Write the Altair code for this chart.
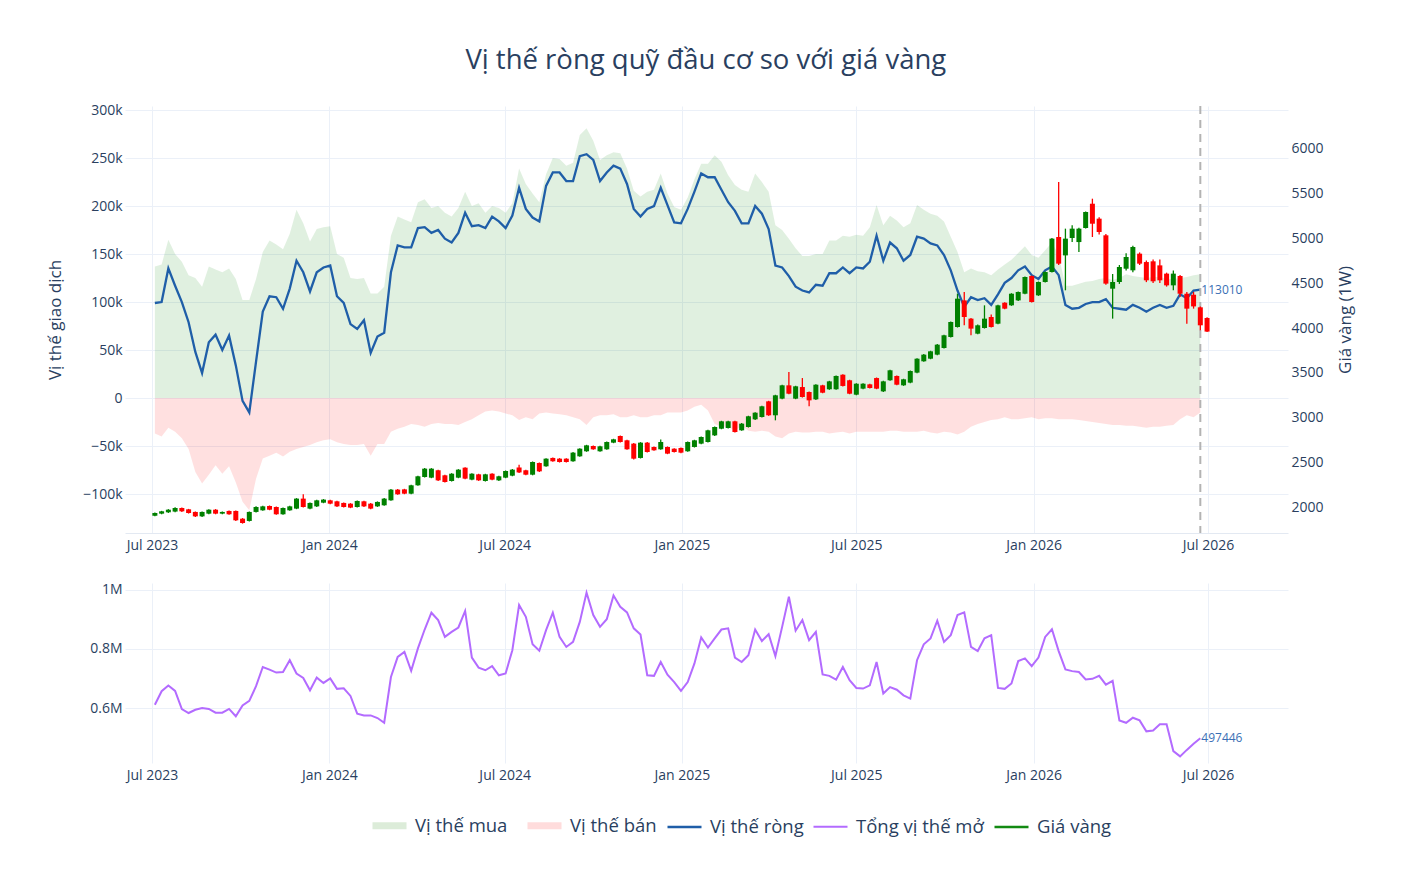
import altair as alt
import pandas as pd

# ---------------- data ----------------
START = "2023-07-04"   # first weekly report

# net position of managed money, thousands of contracts
NET_K = [99, 100, 135, 117, 100, 79, 48, 26, 58, 66, 50, 65, 34, -3, -15, 38, 90, 106, 105, 93,
         114, 143, 131, 111, 131, 136, 138, 106, 99, 77, 72, 81, 47, 64, 68, 131, 159, 157, 157, 177,
         178, 172, 175, 166, 162, 172, 193, 179, 180, 177, 189, 184, 177, 190, 219,
         197, 188, 184, 221, 235, 235, 226, 226, 252, 254, 248, 226, 235, 242, 239, 223, 197, 189, 197, 200,
         219, 201, 183, 182, 197, 215, 234, 230, 230, 217, 204, 195, 182, 182, 200, 192, 176, 138, 136, 127,
         116, 112, 110, 118, 117, 130, 130, 136, 130, 136, 135, 142, 169,
         143, 162, 156, 143, 149, 168, 166, 161, 159, 149, 133, 112, 95, 105, 102, 104, 97, 108, 120, 125,
         133, 137, 128, 124, 133, 137, 128, 97, 93, 94, 98, 100, 100, 103, 94, 93, 92, 97, 94, 90,
         94, 97, 94, 96, 108, 104, 112, 113.010]

LONG_K = [137, 139, 165, 150, 142, 128, 125, 116, 137, 134, 131, 135, 124, 102, 102, 124, 152, 164, 160, 155,
          171, 196, 182, 163, 176, 178, 179, 150, 146, 125, 124, 125, 109, 109, 116, 169, 189, 186, 183, 204,
          207, 198, 200, 193, 189, 198, 215, 200, 203, 193, 200, 198, 193, 203, 239,
          223, 213, 204, 233, 250, 249, 242, 245, 274, 281, 268, 248, 253, 256, 255, 239, 216, 210, 215, 217,
          234, 213, 199, 196, 209, 228, 244, 244, 253, 246, 232, 222, 217, 215, 234, 225, 215, 180, 175, 166,
          156, 148, 148, 150, 150, 164, 164, 169, 168, 170, 169, 178, 201,
          180, 190, 185, 178, 182, 201, 196, 192, 190, 184, 168, 152, 131, 135, 132, 131, 128, 134, 139, 144,
          151, 158, 149, 146, 154, 162, 149, 117, 117, 119, 121, 122, 124, 125, 123, 125, 129, 127, 126, 125,
          126, 126, 124, 124, 125, 126, 128, 129]

SHORT_K = [37, 40, 31, 35, 42, 53, 77, 89, 80, 70, 79, 71, 88, 108, 117, 84, 63, 60, 57, 61,
           56, 53, 51, 49, 46, 44, 43, 46, 48, 49, 49, 48, 60, 48, 48, 35, 32, 30, 27, 28,
           30, 27, 26, 27, 27, 28, 25, 22, 18, 14, 13, 14, 16, 18, 23,
           20, 22, 16, 15, 16, 17, 18, 20, 22, 28, 20, 18, 18, 17, 20, 20, 18, 20, 20, 18,
           18, 15, 15, 15, 13, 9, 7, 13, 27, 30, 30, 34, 29, 34, 35, 34, 35, 40, 42, 37,
           35, 36, 36, 35, 35, 37, 36, 35, 37, 35, 35, 35, 35,
           35, 34, 34, 35, 35, 35, 34, 36, 37, 35, 36, 38, 35, 30, 27, 25, 23, 22, 20, 22,
           22, 21, 20, 22, 21, 21, 22, 22, 22, 23, 24, 25, 26, 27, 28, 28, 29, 29, 30, 31,
           30, 30, 29, 28, 22, 18, 20, 15]

# total open interest, millions of contracts
OI_M = [0.611, 0.657, 0.676, 0.658, 0.596, 0.583, 0.594, 0.600, 0.597, 0.584,
        0.584, 0.597, 0.572, 0.609, 0.624, 0.674, 0.739, 0.730, 0.720, 0.722,
        0.762, 0.717, 0.702, 0.660, 0.703, 0.685, 0.700, 0.665, 0.667, 0.641,
        0.581, 0.575, 0.575, 0.566, 0.550, 0.705, 0.773, 0.790, 0.726, 0.802,
        0.866, 0.923, 0.898, 0.841, 0.858, 0.873, 0.929, 0.771, 0.737, 0.728,
        0.742, 0.711, 0.717, 0.796, 0.949, 0.909, 0.816, 0.794, 0.864, 0.923,
        0.841, 0.807, 0.824, 0.892, 0.991, 0.915, 0.875, 0.901, 0.981, 0.943,
        0.924, 0.870, 0.849, 0.711, 0.709, 0.756, 0.713, 0.688, 0.658, 0.688,
        0.751, 0.839,
        0.805, 0.836, 0.866, 0.870, 0.771, 0.756, 0.779, 0.866, 0.827, 0.850,
        0.776, 0.875, 0.977, 0.862, 0.898, 0.830, 0.858, 0.714, 0.709, 0.696,
        0.739, 0.694, 0.668, 0.666, 0.677, 0.756, 0.649, 0.671, 0.662, 0.643,
        0.632, 0.762, 0.816, 0.836, 0.896, 0.824, 0.847, 0.915, 0.924, 0.807,
        0.793, 0.836, 0.847, 0.668, 0.665, 0.683, 0.759, 0.768, 0.742, 0.771,
        0.841, 0.867, 0.793, 0.731, 0.725, 0.722, 0.697, 0.699, 0.709, 0.679,
        0.692, 0.558, 0.550, 0.567, 0.558, 0.521, 0.524, 0.545, 0.545, 0.454,
        0.436, 0.458, 0.479, 0.497446]

# weekly gold candles
OPEN = [1915, 1937, 1952, 1960, 2000, 1985, 1956, 1907, 1937, 1981, 1937, 1967, 1967, 1881, 1856, 1956, 1974, 2022, 2011, 1930,
        1974, 1993, 2104, 1993, 2018, 2059, 2085, 2074, 2056, 2048, 2011, 2074, 2048, 2018, 2030, 2085, 2204, 2207, 2159, 2252,
        2344, 2337, 2419, 2363, 2300, 2337, 2448, 2315, 2374, 2300, 2381, 2307, 2337, 2359, 2450, 2419, 2370, 2500, 2463, 2556,
        2548, 2548, 2519, 2574, 2630, 2689, 2630, 2652, 2726, 2800, 2752, 2715, 2556, 2726, 2678, 2652, 2678, 2659, 2667, 2630,
        2678, 2715, 2733, 2807, 2881, 2889, 2963, 2863, 2900, 2985, 3011, 3185, 3030, 3215, 3363, 3215, 3344, 3289, 3207, 3363,
        3319, 3319, 3481, 3419, 3259, 3326, 3374, 3444, 3296, 3419, 3467, 3363, 3393, 3504, 3630, 3659, 3704, 3778, 3900, 4011,
        4307, 4104, 3937, 4000, 4122, 4048, 4281, 4252, 4307, 4381, 4578, 4363, 4511, 4622, 5011, 4807, 5000, 4955, 5111, 5381,
        5215, 5030, 4437, 4511, 4659, 4641, 4826, 4733, 4741, 4696, 4604, 4474, 4578, 4381, 4370, 4230, 4111]
CLOSE = [1944, 1963, 1981, 2000, 1963, 1944, 1907, 1956, 1981, 1937, 1956, 1930, 1863, 1833, 1956, 2011, 2018, 1981, 1930, 2000,
         2018, 2104, 2011, 2056, 2085, 2093, 2048, 2018, 2011, 2004, 2078, 2018, 1993, 2067, 2104, 2204, 2152, 2159, 2252, 2352,
         2437, 2437, 2307, 2289, 2381, 2426, 2326, 2381, 2307, 2374, 2315, 2352, 2411, 2426, 2395, 2370, 2511, 2407, 2548, 2519,
         2511, 2511, 2615, 2659, 2696, 2652, 2685, 2733, 2763, 2733, 2652, 2548, 2726, 2622, 2641, 2733, 2604, 2622, 2615, 2733,
         2752, 2789, 2863, 2900, 2963, 2963, 2844, 2937, 3019, 3059, 3130, 3030, 3252, 3363, 3270, 3352, 3233, 3196, 3370, 3281,
         3407, 3467, 3356, 3270, 3381, 3381, 3333, 3326, 3407, 3530, 3370, 3430, 3522, 3659, 3704, 3741, 3815, 3919, 4067, 4326,
         4122, 3993, 4030, 4104, 4011, 4252, 4215, 4381, 4400, 4567, 4289, 4511, 4622, 4993, 4715, 4993, 5104, 5104, 5289, 5159,
         5067, 4493, 4511, 4678, 4789, 4900, 4715, 4530, 4519, 4530, 4474, 4604, 4381, 4215, 4240, 4030, 3960]
HIGH = [1950, 1968, 1987, 2008, 2006, 1990, 1962, 1961, 1986, 1988, 1962, 1972, 1972, 1888, 1962, 2018, 2024, 2028, 2016, 2006,
        2024, 2110, 2152, 2062, 2091, 2099, 2091, 2080, 2062, 2054, 2084, 2080, 2054, 2073, 2110, 2210, 2210, 2213, 2258, 2358,
        2443, 2443, 2425, 2369, 2387, 2432, 2454, 2387, 2380, 2380, 2387, 2358, 2417, 2432, 2481, 2425, 2517, 2506, 2554, 2562,
        2554, 2554, 2621, 2665, 2702, 2695, 2691, 2739, 2769, 2806, 2758, 2721, 2732, 2732, 2684, 2760, 2684, 2665, 2673, 2739,
        2758, 2795, 2869, 2906, 2969, 2969, 2969, 2943, 3025, 3065, 3136, 3191, 3258, 3369, 3511, 3358, 3444, 3295, 3376, 3369,
        3413, 3473, 3487, 3425, 3387, 3387, 3380, 3450, 3413, 3536, 3473, 3436, 3528, 3665, 3710, 3747, 3821, 3925, 4073, 4381,
        4400, 4110, 4040, 4252, 4150, 4258, 4287, 4387, 4406, 4573, 4584, 4517, 4628, 4999, 5622, 5104, 5141, 5115, 5295, 5437,
        5230, 5045, 4600, 4700, 4830, 4915, 4840, 4750, 4760, 4760, 4615, 4640, 4590, 4400, 4400, 4240, 4120]
LOW = [1908, 1930, 1945, 1952, 1955, 1938, 1900, 1900, 1930, 1930, 1930, 1924, 1856, 1826, 1850, 1950, 1968, 1975, 1924, 1924,
       1968, 1987, 2005, 1987, 2012, 2053, 2042, 2012, 2005, 1998, 2005, 2012, 1987, 2012, 2024, 2079, 2146, 2153, 2153, 2246,
       2338, 2331, 2301, 2283, 2294, 2331, 2320, 2309, 2301, 2294, 2309, 2301, 2331, 2353, 2389, 2363, 2363, 2400, 2457, 2513,
       2505, 2505, 2513, 2568, 2624, 2646, 2624, 2646, 2720, 2727, 2646, 2540, 2550, 2616, 2635, 2646, 2598, 2616, 2609, 2624,
       2672, 2709, 2727, 2801, 2875, 2883, 2838, 2857, 2894, 2979, 3005, 3024, 2974, 3209, 3264, 3209, 3227, 3130, 3201, 3275,
       3313, 3313, 3350, 3264, 3253, 3320, 3327, 3320, 3290, 3413, 3364, 3357, 3387, 3498, 3624, 3653, 3698, 3772, 3894, 4005,
       4030, 3919, 3930, 3994, 4005, 4042, 4209, 4246, 4301, 4375, 4283, 4357, 4505, 4616, 4700, 4419, 4955, 4844, 5105, 5011,
       5040, 4480, 4104, 4490, 4640, 4620, 4700, 4510, 4500, 4500, 4460, 4420, 4344, 4048, 4215, 3974, 3956]

SERIES = ["Vị thế mua", "Vị thế bán", "Vị thế ròng", "Tổng vị thế mở", "Giá vàng"]
SERIES_COLORS = ["#dcecd9", "#ffdcdc", "#1f5ea8", "#b36bff", "#138a13"]
SERIES_WIDTHS = [7, 7, 2.5, 2, 2.5]

TITLE = "Vị thế ròng quỹ đầu cơ so với giá vàng"
LEFT_TITLE = "Vị thế giao dịch"
RIGHT_TITLE = "Giá vàng (1W)"

# ---------------- tables ----------------
cot_dates = pd.date_range(START, periods=len(NET_K), freq="7D").strftime("%Y-%m-%d")
gold_dates = pd.date_range(START, periods=len(OPEN), freq="7D").strftime("%Y-%m-%d")

cot = pd.DataFrame({"date": cot_dates, "net": NET_K, "long": LONG_K,
                    "short": SHORT_K, "oi": OI_M, "series": "Tổng vị thế mở"})
gold = pd.DataFrame({"date": gold_dates, "open": OPEN, "high": HIGH, "low": LOW, "close": CLOSE})
last = cot.tail(1).copy()
last["net_label"] = f"{round(NET_K[-1] * 1000)}"
last["oi_label"] = f"{round(OI_M[-1] * 1e6)}"

FONT = "Open Sans"
TXT = "#2a3f5f"
GRID = "#ebf0f8"

X_DOMAIN = [alt.DateTime(year=2023, month=6, date=3, utc=True),
            alt.DateTime(year=2026, month=9, date=22, utc=True)]
X_TICKS = [alt.DateTime(year=y, month=m, date=1, utc=True)
           for y, m in [(2023, 7), (2024, 1), (2024, 7), (2025, 1), (2025, 7), (2026, 1), (2026, 7)]]
X_SCALE = alt.Scale(type="utc", domain=X_DOMAIN, padding=0)


def x_axis(show_domain):
    return alt.Axis(values=X_TICKS, format="%b %Y", labelFont=FONT, labelFontSize=14,
                    labelColor=TXT, labelPadding=5, ticks=False, grid=True,
                    gridColor=GRID, domain=show_domain, domainColor="#e3e9f2",
                    labelFlush=False, labelOverlap=False, title=None)


X_TOP = alt.X("date:T", scale=X_SCALE, axis=x_axis(True), title=None)
X_BOT = alt.X("date:T", scale=X_SCALE, axis=x_axis(False), title=None)

# ---------------- top panel ----------------
left_scale = alt.Scale(domain=[-140.6, 304.2], nice=False, zero=False)
left_axis = alt.Axis(values=list(range(-100, 301, 50)),
                     labelExpr="datum.value == 0 ? '0' : (datum.value < 0 ? '\u2212' + abs(datum.value) + 'k' : datum.value + 'k')",
                     title=LEFT_TITLE, titleFont=FONT, titleFontSize=17, titleFontWeight="normal",
                     titleColor=TXT, titlePadding=18, labelFont=FONT, labelFontSize=14, labelColor=TXT,
                     labelPadding=3, ticks=False, domain=False, grid=True, gridColor=GRID)


def y_left(field):
    return alt.Y(field, scale=left_scale, axis=left_axis, title=LEFT_TITLE)


base_top = alt.Chart(cot)
long_area = base_top.mark_area(color="green", opacity=0.12).encode(
    x=X_TOP, y=y_left("long:Q"), y2=alt.datum(0))
short_area = base_top.transform_calculate(neg="-datum.short").mark_area(color="red", opacity=0.12).encode(
    x=X_TOP, y=y_left("neg:Q"), y2=alt.datum(0))
net_line = base_top.mark_line(color="#1f5ea8", strokeWidth=2.3).encode(
    x=X_TOP, y=y_left("net:Q"))
net_text = alt.Chart(last).mark_text(align="left", dx=1, fontSize=12, font=FONT, color="#3a6fb5").encode(
    x=X_TOP, y=y_left("net:Q"), text="net_label:N")
end_rule = alt.Chart(last).mark_rule(color="#b3b3b3", strokeWidth=2, strokeDash=[8, 6]).encode(x=X_TOP)

left_layers = alt.layer(long_area, short_area, net_line, net_text, end_rule)

right_scale = alt.Scale(domain=[1722, 6467], nice=False, zero=False)
right_axis = alt.Axis(orient="right", values=list(range(2000, 6001, 500)), format="d",
                      title=RIGHT_TITLE, titleAngle=270, titleBaseline="top", titleFont=FONT,
                      titleFontSize=17, titleFontWeight="normal", titleColor=TXT, titlePadding=14,
                      labelFont=FONT, labelFontSize=14, labelColor=TXT, labelPadding=3,
                      ticks=False, domain=False, grid=False)
candle_color = alt.condition("datum.close >= datum.open", alt.value("#008000"), alt.value("#ff0000"))
wick = alt.Chart(gold).mark_rule(strokeWidth=1.3).encode(
    x=X_TOP, y=alt.Y("low:Q", scale=right_scale, axis=right_axis, title=RIGHT_TITLE),
    y2="high:Q", color=candle_color)
body = alt.Chart(gold).mark_bar(size=5).encode(
    x=X_TOP, y=alt.Y("open:Q", scale=right_scale, axis=right_axis, title=RIGHT_TITLE),
    y2="close:Q", color=candle_color)
right_layers = alt.layer(wick, body)

top = alt.layer(left_layers, right_layers).resolve_scale(y="independent").properties(width=1163, height=427)

# ---------------- bottom panel ----------------
legend = alt.Legend(
    title=None, orient="none", legendX=244, legendY=222, direction="horizontal", columns=5,
    symbolType="stroke", symbolSize=1156, symbolStrokeWidth=2.5,
    labelFont=FONT, labelFontSize=18.5, labelColor=TXT, labelOffset=5, columnPadding=5)

oi_scale = alt.Scale(domain=[0.4136, 1.0237], nice=False, zero=False)
oi_axis = alt.Axis(values=[0.6, 0.8, 1.0],
                   labelExpr="datum.value >= 0.999 ? '1M' : format(datum.value, '.1f') + 'M'",
                   title=None, labelFont=FONT, labelFontSize=14, labelColor=TXT, labelPadding=3,
                   ticks=False, domain=False, grid=True, gridColor=GRID)
oi_line = alt.Chart(cot).mark_line().encode(
    x=X_BOT, y=alt.Y("oi:Q", scale=oi_scale, axis=oi_axis, title=None),
    color=alt.Color("series:N", scale=alt.Scale(domain=SERIES, range=SERIES_COLORS), legend=legend),
    strokeWidth=alt.StrokeWidth("series:N", scale=alt.Scale(type="ordinal", domain=SERIES, range=SERIES_WIDTHS),
                                legend=legend))
oi_text = alt.Chart(last).mark_text(align="left", dx=1, fontSize=12, font=FONT, color="#3a6fb5").encode(
    x=X_BOT, y=alt.Y("oi:Q", scale=oi_scale, axis=oi_axis, title=None), text="oi_label:N")
bottom = alt.layer(oi_line, oi_text).properties(width=1163, height=180)

chart = alt.vconcat(top, bottom, spacing=30).resolve_scale(
    x="independent", y="independent", color="independent", strokeWidth="independent"
).properties(
    title=alt.TitleParams(TITLE, font=FONT, fontSize=27.5, fontWeight="normal", color=TXT,
                          anchor="middle", offset=29, dx=6),
    padding={"left": 38, "top": 38, "right": 30, "bottom": 10},
    background="white",
).configure_view(stroke=None)

chart.save("out.html", embed_options={"renderer": "svg", "actions": False})
